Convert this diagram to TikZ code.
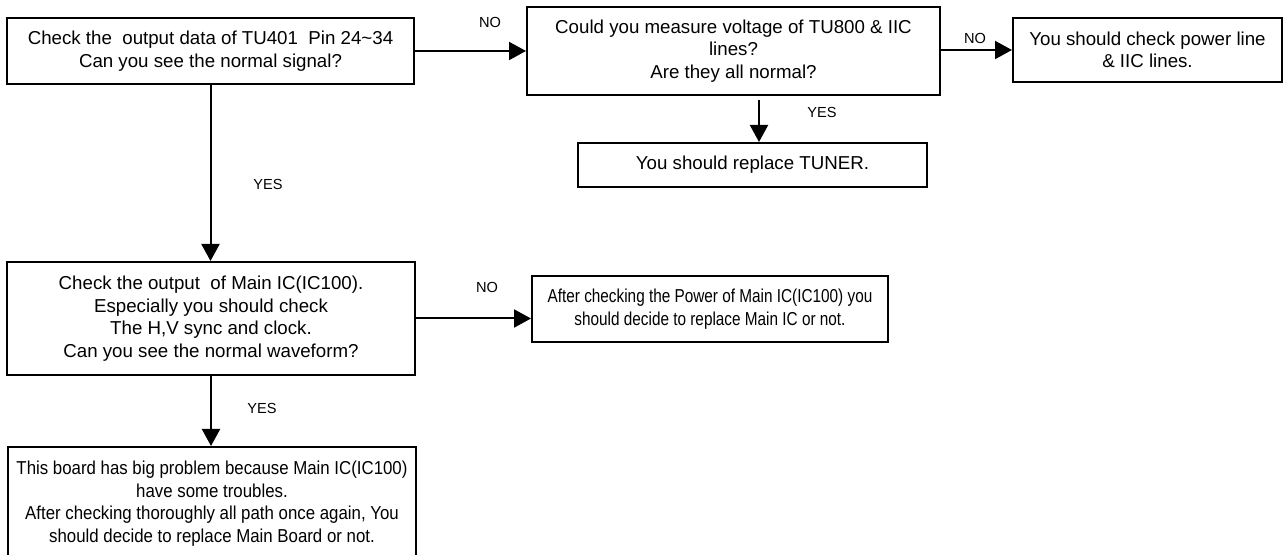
\documentclass[tikz,border=0pt]{standalone}
\usepackage{fontspec}
\setmainfont{Liberation Sans}
\newfontfamily\narrowF[FakeStretch=0.82]{Liberation Sans}
\newfontfamily\narrowG[FakeStretch=0.9]{Liberation Sans}
\usetikzlibrary{arrows.meta,positioning}

\begin{document}
\begin{tikzpicture}[x=0.5pt, y=-0.5pt, ->, >={Triangle[length=8.5pt,width=9pt]}, line width=1pt]
		\tikzstyle{box}=[draw=black, line width=1pt, align=center, inner sep=0pt, font=\fontsize{9.35}{11.25}\selectfont]
		\tikzstyle{lbl}=[inner sep=0pt, font=\fontsize{7.3}{8}\selectfont]
		\useasboundingbox (0,0) rectangle (1286,555);
		\node[box, minimum width=203.5pt, minimum height=33pt]   (A) at (210.5,51)  {Check the\ \ output data of TU401\ \ Pin 24\textasciitilde34\\Can you see the normal signal?};
		\node[box, minimum width=206.5pt, minimum height=44pt]   (B) at (733.5,51)  {Could you measure voltage of TU800 \& IIC\\lines?\\Are they all normal?};
		\node[box, minimum width=134.5pt, minimum height=32pt]   (C) at (1147.5,50) {You should check power line\\\& IIC lines.};
		\node[box, minimum width=174.5pt, minimum height=22pt]   (D) at (752.5,165) {You should replace TUNER.};
		\node[box, minimum width=204pt, minimum height=56.5pt]   (E) at (211,318.5) {Check the output\ \ of Main IC(IC100).\\Especially you should check\\The H,V sync and clock.\\Can you see the normal waveform?};
		\node[box, minimum width=178pt, minimum height=33pt, font={\narrowF\fontsize{9.35}{11.25}\selectfont}] (F) at (710,309) {After checking the Power of Main IC(IC100) you\\should decide to replace Main IC or not.};
		\node[box, minimum width=204pt, minimum height=56.5pt, font={\narrowG\fontsize{9.35}{11.25}\selectfont}] (G) at (212,503.5) {This board has big problem because Main IC(IC100)\\have some troubles.\\After checking thoroughly all path once again, You\\should decide to replace Main Board or not.};
		\coordinate (bd) at (759,100);
		\draw (A.east) -- (B.west |- A.east);
		\draw (B.east |- C.west) -- (C.west);
		\draw (bd) -- (bd |- D.north);
		\draw (A.south) -- (A.south |- E.north);
		\draw (E.east) -- (E.east -| F.west);
		\draw (E.south) -- (E.south |- G.north);
		\node[lbl] (no1)  at (490,22)  {NO};
		\node[lbl] (no2)  at (975,38)  {NO};
		\node[lbl] (yes1) at (822,112) {YES};
		\node[lbl] (yes2) at (268,184) {YES};
		\node[lbl] (no3)  at (487,287) {NO};
		\node[lbl] (yes3) at (262,408) {YES};
	\end{tikzpicture}
\end{document}
